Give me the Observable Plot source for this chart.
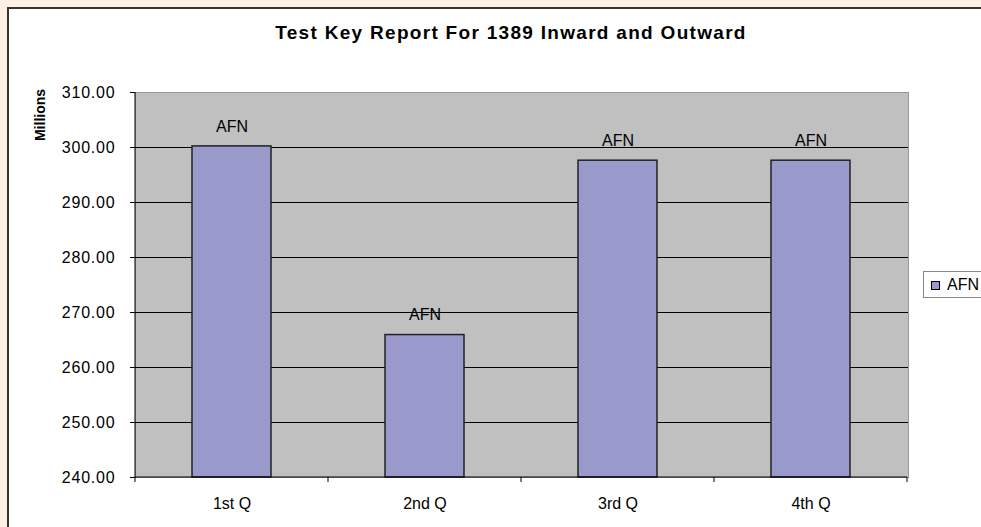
<!DOCTYPE html>
<html><head><meta charset="utf-8">
<script src="https://cdn.jsdelivr.net/npm/d3@7"></script>
<script src="https://cdn.jsdelivr.net/npm/@observablehq/plot@0.6"></script>
<style>
html,body{margin:0;padding:0;background:#FDEFE2;}
#wrap{position:relative;width:981px;height:527px;overflow:hidden;font-family:Arial,"Liberation Sans",sans-serif;color:#000;}
#card{position:absolute;left:7px;top:7px;width:1100px;height:700px;background:#fff;border:2px solid #333;box-sizing:border-box;}
#chart{position:absolute;left:0;top:0;}
#title{position:absolute;left:0;width:1022px;top:22px;text-align:center;font-weight:bold;font-size:19px;line-height:22px;letter-spacing:1.3px;white-space:nowrap;}
#ylabel{position:absolute;left:40px;top:115px;transform:translate(-50%,-50%) rotate(-90deg);font-weight:bold;font-size:14px;white-space:nowrap;}
#legend{position:absolute;left:923px;top:271px;width:80px;height:27px;border:1px solid #888;background:#fff;box-sizing:border-box;}
#legend .sw{position:absolute;left:7px;top:9px;width:9px;height:9px;border:1px solid #000;box-sizing:border-box;}
#legend .lb{position:absolute;left:23px;top:4px;font-size:16px;line-height:18px;}
#chart g[aria-label="y-axis tick label"] text{letter-spacing:0.8px;}
</style>
</head><body>
<div id="wrap">
  <div id="card"></div>
  <div id="chart"></div>
  <div id="title"></div>
  <div id="ylabel"></div>
  <div id="legend"><div class="sw"></div><div class="lb"></div></div>
</div>
<script>
const titleText = "Test Key Report For 1389 Inward and Outward";
const yAxisLabel = "Millions";
const seriesName = "AFN";
const quarters = ["1st Q", "2nd Q", "3rd Q", "4th Q"];
const values = [300.2, 265.9, 297.6, 297.6];
const yTicks = [240, 250, 260, 270, 280, 290, 300, 310];
const barColor = "#9999CC";

const data = quarters.map((q, i) => ({q, v: values[i]}));
const yDomain = [yTicks[0], yTicks[yTicks.length - 1]];

document.getElementById("title").textContent = titleText;
document.getElementById("ylabel").textContent = yAxisLabel;
document.querySelector("#legend .lb").textContent = seriesName;
document.querySelector("#legend .sw").style.background = barColor;

function axisExtras(index, scales, values_, dims) {
  const x = scales.x, y = scales.y;
  const bw = x.bandwidth ? x.bandwidth() : 0;
  const step = x(quarters[1]) - x(quarters[0]);
  const gap = (step - bw) / 2;
  const edges = quarters.map(q => x(q) - gap);
  edges.push(x(quarters[quarters.length - 1]) + bw + gap);
  const y0 = y(yDomain[0]), y1 = y(yDomain[1]);
  const g = d3.create("svg:g").attr("stroke", "#000").attr("stroke-width", 1);
  g.selectAll("line.t").data(edges).join("line")
    .attr("x1", d => d).attr("x2", d => d).attr("y1", y0).attr("y2", y0 + 5);
  g.append("line").attr("x1", edges[0]).attr("x2", edges[0]).attr("y1", y1).attr("y2", y0);
  g.append("line").attr("x1", edges[0]).attr("x2", edges[edges.length - 1]).attr("y1", y0).attr("y2", y0);
  return g.node();
}

const chart = Plot.plot({
  width: 981,
  height: 527,
  marginLeft: 135,
  marginRight: 73,
  marginTop: 92,
  marginBottom: 50,
  style: {background: "transparent", fontSize: "16px", fontFamily: "Arial, 'Liberation Sans', sans-serif", color: "#000"},
  x: {type: "band", domain: quarters, paddingInner: 0.59, paddingOuter: 0.295, axis: null},
  y: {domain: yDomain, axis: null},
  marks: [
    Plot.frame({fill: "#C0C0C0", stroke: "#999"}),
    Plot.ruleY(yTicks.slice(1, -1), {stroke: "#000", strokeWidth: 1}),
    Plot.barY(data, {x: "q", y1: yDomain[0], y2: "v", fill: barColor, stroke: "#222", strokeWidth: 1.5}),
    Plot.text(data, {x: "q", y: "v", text: () => seriesName, dy: -20, fontSize: 16, fill: "#000"}),
    Plot.axisY({ticks: yTicks, tickFormat: d3.format(".2f"), tickSize: 5, tickPadding: 15, label: null, fontSize: 16}),
    Plot.axisX({tickSize: 0, tickPadding: 20, label: null, fontSize: 16}),
    axisExtras
  ]
});
document.getElementById("chart").appendChild(chart);
</script>
</body></html>
